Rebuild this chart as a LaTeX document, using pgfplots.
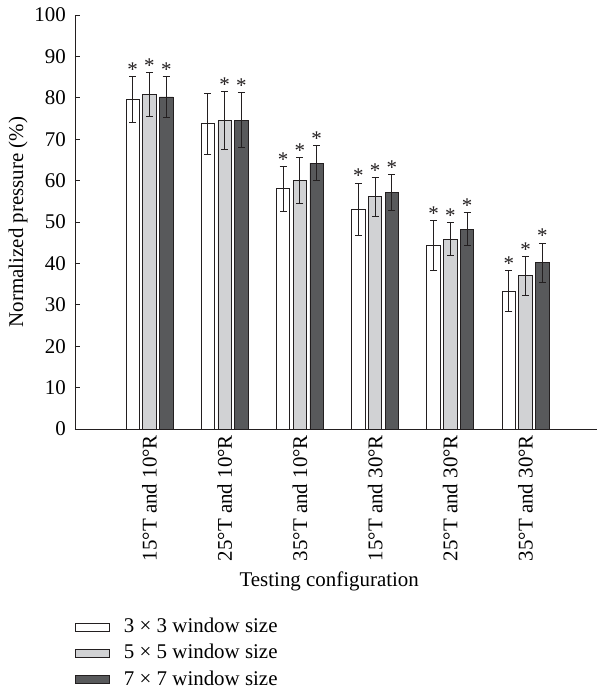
\documentclass[border=0pt]{standalone}
\usepackage{pgfplots}
\pgfplotsset{compat=1.18}
\usepackage{fontspec}
\setmainfont{Liberation Serif}
\definecolor{lg}{RGB}{209,210,212}
\definecolor{dg}{RGB}{88,89,91}
\definecolor{ink}{RGB}{35,31,32}
\begin{document}
\fontsize{21}{25}\selectfont
\begin{tikzpicture}
\useasboundingbox (-75bp,-260bp) rectangle (522bp,429bp);
\begin{axis}[
  scale only axis, width=522bp, height=414bp,
  xmin=-0.99, xmax=5.95, ymin=0, ymax=100,
  axis lines=left, axis line style={-, line width=0.8bp, ink},
  ytick={0,10,...,100}, tick align=inside, major tick length=5bp,
  ytick style={line width=0.8bp, ink},
  xtick={0,1,2,3,4,5}, xtick style={draw=none},
  xticklabels={15°T and 10°R, 25°T and 10°R, 35°T and 10°R, 15°T and 30°R, 25°T and 30°R, 35°T and 30°R},
  xticklabel style={rotate=90, anchor=east, inner sep=0pt},
  xticklabel shift=6bp,
  yticklabel style={inner sep=0pt},
  yticklabel shift=9bp,
  /pgf/number format/assume math mode=true,
  ylabel={Normalized pressure (\%)},
  ylabel style={at={(axis description cs:-0.109,0.5)}, anchor=center},
  xlabel={Testing configuration},
  xlabel style={at={(axis description cs:0.487,-0.367)}, anchor=center},
  legend style={at={(axis description cs:0,-0.452)}, anchor=north west, draw=none, fill=none, inner sep=0pt, row sep=4.5bp, legend cell align=left,
    /tikz/every odd column/.append style={column sep=12bp}},
  legend image code/.code={\draw[#1] (0bp,-4bp) rectangle (34bp,4bp);},
  error bars/error bar style={line width=0.9bp, ink},
  error bars/error mark options={rotate=90, mark size=3.5bp, line width=0.9bp, ink},
  bar width=0.18, bar shift=0pt,
]
\addplot[ybar, fill=white, draw=ink, line width=0.8bp,
  error bars/.cd, y dir=both, y explicit]
  coordinates {(-0.223,79.6) +- (0,5.6) (0.777,73.7) +- (0,7.4) (1.777,58.0) +- (0,5.4) (2.777,53.1) +- (0,6.3) (3.777,44.3) +- (0,6.0) (4.777,33.3) +- (0,5.0)};
\addlegendentry{3 × 3 window size}
\addplot[ybar, fill=lg, draw=ink, line width=0.8bp,
  error bars/.cd, y dir=both, y explicit]
  coordinates {(0,80.8) +- (0,5.3) (1,74.5) +- (0,7.0) (2,60.0) +- (0,5.5) (3,56.1) +- (0,4.7) (4,45.8) +- (0,4.0) (5,37.0) +- (0,4.7)};
\addlegendentry{5 × 5 window size}
\addplot[ybar, fill=dg, draw=ink, line width=0.8bp,
  error bars/.cd, y dir=both, y explicit]
  coordinates {(0.223,80.2) +- (0,4.9) (1.223,74.6) +- (0,6.7) (2.223,64.2) +- (0,4.2) (3.223,57.1) +- (0,4.4) (4.223,48.3) +- (0,4.0) (5.223,40.2) +- (0,4.7)};
\addlegendentry{7 × 7 window size}
% asterisks above the error bars
\addplot[only marks, mark=none, forget plot,
  nodes near coords={*}, nodes near coords style={anchor=south, inner sep=0pt, text=ink}]
  coordinates {(-0.223,85.2) (1.777,63.4) (2.777,59.4) (3.777,50.3) (4.777,38.3)
               (0,86.1) (1,81.5) (2,65.5) (3,60.8) (4,49.8) (5,41.7)
               (0.223,85.1) (1.223,81.3) (2.223,68.4) (3.223,61.5) (4.223,52.3) (5.223,44.9)};
\end{axis}
\end{tikzpicture}
\end{document}
